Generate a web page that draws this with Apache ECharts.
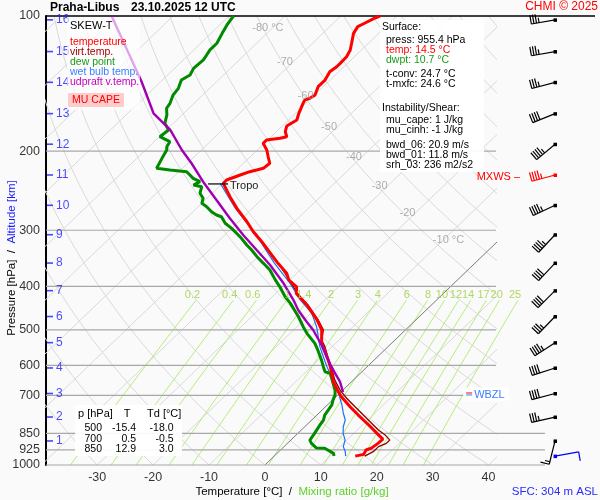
<!DOCTYPE html>
<html>
<head>
<meta charset="utf-8">
<script src="https://cdn.jsdelivr.net/npm/echarts@6.0.0/dist/echarts.min.js"></script>
<style>html,body{margin:0;padding:0;background:#fafafa;}#chart{width:600px;height:500px;}</style>
</head>
<body>
<div id="chart"></div>
<script>
// ================= DATA =================
// profiles: [pressure hPa, temperature °C]
const temperature = [[955.4,14.5],[947,15.7],[926,15.3],[917,15.9],[895,16.2],[876,16.3],[857,14.7],[828,12.3],[801,9.9],[774,7.4],[742,4.4],[705,1.0],[687,-0.5],[652,-3.3],[625,-5.1],[604,-6.6],[584,-8.2],[555,-10.7],[536,-12.5],[500,-15.0],[475,-17.7],[440,-22.3],[415,-26.3],[401,-27.5],[387,-30.2],[374,-31.8],[355.5,-35.2],[340.6,-37.9],[320.8,-41.6],[302.3,-45.5],[287.2,-48.5],[268.1,-52.8],[252.6,-56.2],[235.8,-59.9],[231.9,-59.9],[226,-58.4],[222.2,-57.3],[220.3,-56.4],[218.4,-55.5],[212.8,-55.3],[205.8,-56.8],[198.8,-58.3],[192.1,-60.2],[188.9,-60.2],[187.2,-58.1],[185.7,-57.2],[181,-58.4],[175.8,-59.2],[170.5,-58.5],[164.7,-59.4],[156.5,-60.5],[153.8,-60.8],[152.5,-60.2],[150,-59.9],[143.7,-60.9],[138.9,-60.9],[133.1,-61.6],[129.7,-61.3],[127.5,-61.3],[123.2,-61.4],[119,-62.0],[115,-63.0],[109.3,-64.5],[105.6,-65.0],[103.8,-64.4],[101.2,-63.6],[100,-63.0]];
const virtualTemp = [[955.4,16.2],[934,16.9],[910,16.9],[895,17.7],[880,17.7],[857,15.9],[836,13.8],[807,11.3],[774,8.3],[742,5.3],[710,2.2],[681,-0.5],[647,-3.3],[614,-5.7],[579,-8.5],[545,-11.3],[527,-13.1],[500,-14.7],[475,-17.5],[440,-22.1],[415,-26.1],[387,-30.1],[355.5,-35.1],[320.8,-41.5],[302.3,-45.4]];
const dewPoint = [[955.4,10.7],[942,10.1],[918,7.6],[916,6.0],[895,4.3],[880,3.4],[857,3.1],[836,2.75],[815,2.4],[794,2.1],[774,1.4],[754,1.1],[735,0.8],[717,0.1],[698,-0.5],[681,-1.4],[658,-3.0],[641,-4.2],[625,-5.4],[620,-6.6],[604,-7.85],[584,-9.4],[555,-11.9],[536,-13.7],[509,-17.0],[492,-18.9],[467.5,-21.6],[436,-25.6],[422,-27.7],[401,-30.5],[387,-32.6],[368,-35.4],[355.5,-37.8],[343.6,-40.2],[332,-42.4],[323.6,-44.2],[312.7,-46.4],[304.8,-48.2],[297.1,-50.0],[289.5,-52.1],[279.9,-54.0],[277.5,-55.2],[272.8,-56.7],[265.9,-58.5],[261.3,-60.0],[254.7,-60.7],[248.2,-62.2],[240,-63.1],[237.9,-64.9],[233.9,-64.35],[229.9,-66.2],[226,-67.4],[222.2,-68.6],[220.3,-71.9],[218.4,-74.6],[207.5,-75.5],[198.8,-76.2],[195.5,-76.8],[190.5,-77.2],[185.7,-79.9],[179.4,-79.6],[173.4,-81.5],[166.1,-82.7],[160.5,-84.0],[156.5,-84.3],[150,-85.3],[144.9,-85.6],[138.9,-86.6],[135.3,-86.0],[130.8,-86.6],[125.3,-86.4],[119,-87.1],[115,-87.1],[109.3,-88.0],[104.7,-88.7],[100,-89.2]];
const wetBulb = [[955.4,12.8],[934,11.9],[910,10.6],[880,9.7],[850,8.1],[822,6.9],[794,6.0],[767,4.4],[735,2.6],[710,1.0],[687,-0.5],[658,-2.7],[636,-4.5],[604,-7.2],[574,-9.7],[545,-12.2],[492,-16.5],[459,-19.9],[429,-24.4],[394,-29.3],[355,-35.9],[320,-42.0],[300,-45.9],[268,-53.1],[236,-60.4]];
const updraftVirtTemp = [[688,0.4],[652,-2.1],[625,-4.5],[604,-6.4],[574,-9.1],[540.5,-12.2],[500.4,-16.5],[479.6,-19.2],[451.7,-22.9],[429.1,-25.6],[393.8,-30.5],[358.6,-36.3],[332,-41.5],[307.4,-46.7],[282.2,-52.2],[256.9,-58.0],[233.9,-63.8],[212.8,-69.3],[198.8,-73.5],[179.4,-79.3],[164.7,-85.4],[140.1,-93.4],[100,-111.0]];

// axes / ticks
const pressureTicks = [100,200,300,400,500,600,700,850,925,1000];
const temperatureTicks = [-30,-20,-10,0,10,20,30,40];
const altitudeKm = [1,2,3,4,5,6,7,8,9,10,11,12,13,14,15,16];
const altitudeP  = [884,782,693,608,534,467,409,355,307,264,226,193,165,140.5,120,102];
const mixingRatios = [0.2,0.4,0.6,1,1.4,2,3,4,6,8,10,12,14,17,20,25];
const isothermLabelT = [-80,-70,-60,-50,-40,-30,-20,-10];
const isothermLabelP = [106.3,126.6,150.7,176.8,206.0,239.1,274.6,315.4];

// winds at each km level (direction °, speed kt)
const windDir = [194,257,255,252,237,224,225,223,223,245,255,230,248,255,260,260];
const windSpd = [15,35,40,40,45,35,40,40,45,45,45,45,40,35,35,35];
const maxWindKm = 11;
const surfaceWind = [955.4, 80, 10];

// special levels
const tropopause = [236, -59.9];
const wbzlPressure = 693;

// surface / index info
const sfcPress = 955.4, sfcTemp = 14.5, sfcDwpt = 10.7;
const tConv = 24.7, tMxfc = 24.6;
const muCape = 1, muCinh = -1, bwd06 = 20.9, bwd01 = 11.8, srh03 = 236;
const tableP = [500,700,850];
const tableT = [-15.4,0.5,12.9];
const tableTd = [-18.0,-0.5,3.0];
const stationName = 'Praha-Libus', stationTime = '23.10.2025 12 UTC', sfcHeight = 304;

// ================= CHART =================
const FONT = "'Liberation Sans', Arial, sans-serif";
const K = 36.3;                                  // skew (°C per ln-pressure unit)
const sk = (T, p) => T + K * Math.log(1000 / p);
const XMIN = -39.16, XMAX = 41.34, XMAX_W = 59.05, XLOW = 50.1;
const BARB_X = 51.9, WBZL_X = 36;

const series = [];
function gridLine(pts, color, width, gi, z, clip) {
  series.push({type:'line', xAxisIndex:gi, yAxisIndex:gi, data:pts, showSymbol:false, symbol:'none',
    silent:true, clip: clip !== false, lineStyle:{color, width}, z: z || 1, animation:false});
}
// isotherms
for (let T = -130; T <= 40; T += 10)
  gridLine([[sk(T,1000),1000],[sk(T,100),100]], T === 0 ? '#7a7a7a' : '#d9d9d9', 1, 0, T === 0 ? 2 : 1);
// dry adiabats
for (let th = -40; th <= 180; th += 10) {
  const pts = [];
  for (let i = 0; i <= 40; i++) {
    const p = 1000 * Math.pow(0.1, i / 40);
    const T = (th + 273.15) * Math.pow(p / 1000, 0.2857) - 273.15;
    pts.push([sk(T,p), p]);
  }
  gridLine(pts, '#d9d9d9', 1, 0);
}
// saturation mixing ratio lines
const tdFromW = (w, p) => { const e = w * p / (622 + w); const l = Math.log(e / 6.112); return 243.5 * l / (17.67 - l); };
mixingRatios.forEach(w => {
  const pts = [];
  for (let p = 1000; p >= 430; p -= 10) pts.push([sk(tdFromW(w,p),p), p]);
  gridLine(pts, '#b4ec78', 1, 1, 1);
});
// pressure lines
pressureTicks.forEach(p => {
  if (p === 100) gridLine([[XMIN,p],[XMAX_W,p]], '#000', 1.5, 1, 3, false);
  else if (p >= 850) gridLine([[XMIN,p],[XLOW,p]], '#a8a8a8', 1.2, 1, 3, false);
  else gridLine([[XMIN,p],[XMAX,p]], '#a8a8a8', 1.2, 1, 3, false);
});

// profiles
function profile(data, color, width, z) {
  series.push({type:'line', xAxisIndex:0, yAxisIndex:0, data:data.map(([p,T]) => [sk(T,p), p]),
    showSymbol:false, symbol:'none', clip:true, silent:true, lineStyle:{color, width}, z, animation:false});
}
profile(wetBulb, '#1f6fff', 1.2, 5);
profile(dewPoint, '#008a00', 3, 6);
profile(virtualTemp, '#8b0000', 1.3, 6);
profile(temperature, '#ff0000', 3, 7);
profile(updraftVirtTemp, '#a000b4', 2.4, 8);

// label helper series
function labels(gi, data, label, extra) {
  series.push(Object.assign({type:'scatter', xAxisIndex:gi, yAxisIndex:gi, data, symbolSize:0, silent:true, clip:false, z:12,
    label:Object.assign({show:true, fontFamily:FONT}, label), animation:false}, extra || {}));
}
// pressure labels
labels(0, pressureTicks.map(p => ({value:[XMIN,p], name:String(p)})),
  {position:'left', distance:6, color:'#000', fontSize:12.5, formatter:d => d.name});
// temperature labels
labels(0, temperatureTicks.map(t => ({value:[t,1000], name:String(t)})),
  {position:'bottom', distance:6, color:'#000', fontSize:12.5, formatter:d => d.name});
// isotherm labels
labels(0, isothermLabelT.map((t,i) => ({value:[sk(t,isothermLabelP[i]), isothermLabelP[i]],
  name: (t === -80 || t === -10) ? t + ' °C' : String(t),
  label:{offset: t === -80 ? [11,0] : (t === -10 ? [21,0] : [0,0])}})),
  {position:'left', distance:0, color:'#9a9a9a', fontSize:11, formatter:d => d.name});
// mixing ratio labels
labels(1, mixingRatios.map(w => ({value:[sk(tdFromW(w,418),418), 418], name:String(w)})),
  {position:'left', distance:0, color:'#9ad03c', fontSize:11, formatter:d => d.name});
// altitude ticks
series.push({type:'scatter', xAxisIndex:0, yAxisIndex:0, silent:true, clip:false, z:12, animation:false,
  data: altitudeKm.map((k,i) => ({value:[XMIN, altitudeP[i]], name:String(k)})),
  symbol:'rect', symbolSize:[6,1.6], symbolOffset:[4,0], itemStyle:{color:'#1a1aff'},
  label:{show:true, position:'right', distance:3, color:'#1a1aff', fontSize:12, fontFamily:FONT, formatter:d => d.name}});

// wind barbs
function renderBarb(params, api) {
  const pt = api.coord([api.value(0), api.value(1)]);
  const dir = api.value(2) * Math.PI / 180, spd = api.value(3), kind = api.value(4);
  const col = kind === 1 ? '#ff0000' : (kind === 2 ? '#0000ff' : '#000000');
  const ux = Math.sin(dir), uy = -Math.cos(dir);
  const L = 24, tx = pt[0] + ux * L, ty = pt[1] + uy * L;
  const bx = -uy, by = ux;
  const st = {stroke:col, lineWidth:1.2};
  const ch = [{type:'line', shape:{x1:pt[0], y1:pt[1], x2:tx, y2:ty}, style:st}];
  let s = spd, k = 0;
  while (s >= 10) {
    const sx = tx - ux * k * 2.6, sy = ty - uy * k * 2.6;
    ch.push({type:'line', shape:{x1:sx, y1:sy, x2:sx + bx * 9, y2:sy + by * 9}, style:st});
    s -= 10; k++;
  }
  if (s >= 5) {
    if (k === 0) k = 1;
    const sx = tx - ux * k * 2.6, sy = ty - uy * k * 2.6;
    ch.push({type:'line', shape:{x1:sx, y1:sy, x2:sx + bx * 5, y2:sy + by * 5}, style:st});
  }
  ch.push({type:'rect', shape:{x:pt[0]-1.5, y:pt[1]-1.5, width:3.5, height:3.5}, style:{fill:col}});
  if (kind === 1) ch.push({type:'text', x:pt[0]-35, y:pt[1]+2, style:{text:'MXWS –', fill:'#ff0000', font:'11px ' + FONT, align:'right', verticalAlign:'middle'}});
  return {type:'group', children:ch};
}
const barbData = altitudeP.map((p,i) => [BARB_X, p, windDir[i], windSpd[i], altitudeKm[i] === maxWindKm ? 1 : 0]);
barbData.push([BARB_X, surfaceWind[0], surfaceWind[1], surfaceWind[2], 2]);
series.push({type:'custom', xAxisIndex:1, yAxisIndex:1, data:barbData, renderItem:renderBarb, silent:true, clip:false, z:12, animation:false});

// tropopause marker
series.push({type:'custom', xAxisIndex:0, yAxisIndex:0, data:[[sk(tropopause[1],tropopause[0]), tropopause[0]]], silent:true, z:13, animation:false,
  renderItem:(params, api) => {
    const pt = api.coord([api.value(0), api.value(1)]);
    return {type:'group', children:[
      {type:'line', shape:{x1:pt[0]-15, y1:pt[1]+0.5, x2:pt[0]+5, y2:pt[1]+0.5}, style:{stroke:'#000', lineWidth:1.2}},
      {type:'text', x:pt[0]+7, y:pt[1]+2.5, style:{text:'Tropo', fill:'#222', font:'11px ' + FONT, align:'left', verticalAlign:'middle'}}]};
  }});
// WBZL marker
series.push({type:'custom', xAxisIndex:1, yAxisIndex:1, data:[[WBZL_X, wbzlPressure]], silent:true, z:13, animation:false,
  renderItem:(params, api) => {
    const pt = api.coord([api.value(0), api.value(1)]);
    return {type:'group', children:[
      {type:'rect', shape:{x:pt[0]-3, y:pt[1]-6, width:46, height:13}, style:{fill:'#ffffff'}},
      {type:'line', shape:{x1:pt[0], y1:pt[1]-0.5, x2:pt[0]+6, y2:pt[1]-0.5}, style:{stroke:'#ff0000', lineWidth:1}},
      {type:'line', shape:{x1:pt[0], y1:pt[1]+1.5, x2:pt[0]+6, y2:pt[1]+1.5}, style:{stroke:'#3a7fff', lineWidth:1}},
      {type:'text', x:pt[0]+8, y:pt[1]+1.5, style:{text:'WBZL', fill:'#3a7fff', font:'11px ' + FONT, align:'left', verticalAlign:'middle'}}]};
  }});

// ---- graphic annotations ----
const G = [];
function gtext(x, y, text, fill, size, extra) {
  G.push({type:'text', x, y, z:101, silent:true,
    style:Object.assign({text, fill: fill || '#000', font:(size || 11) + 'px ' + FONT, align:'left', verticalAlign:'middle'}, extra || {})});
}
function grect(x, y, w, h, fill) { G.push({type:'rect', z:100, silent:true, shape:{x, y, width:w, height:h}, style:{fill}}); }

gtext(50, 8, stationName, '#000', 12, {font:'bold 12px ' + FONT});
gtext(131, 8, stationTime, '#000', 12, {font:'bold 12px ' + FONT});
gtext(598, 7, 'CHMI © 2025', '#ff0000', 12, {align:'right'});
// legend box
grect(67, 17, 73, 93, 'rgba(255,255,255,0.65)');
gtext(70, 26, 'SKEW-T', '#000', 11);
gtext(70, 42, 'temperature', '#ff0000', 10.5);
gtext(70, 52, 'virt.temp.', '#a00000', 10.5);
gtext(70, 62, 'dew point', '#1a9a1a', 10.5);
gtext(70, 72, 'wet bulb temp.', '#3a80ff', 10.5);
gtext(70, 82, 'udpraft v.temp.', '#c000c0', 10.5);
grect(68, 93, 56, 14, '#ffcccc');
gtext(96, 100.5, 'MU CAPE', '#ff0000', 10.5, {align:'center'});
// info box
grect(380, 20, 104, 152, 'rgba(255,255,255,0.92)');
gtext(382, 27.5, 'Surface:', '#000', 10.5);
gtext(386, 40, 'press: ' + sfcPress + ' hPa', '#000', 10.5);
gtext(386, 50, 'temp: ' + sfcTemp + ' °C', '#ff0000', 10.5);
gtext(386, 60, 'dwpt: ' + sfcDwpt + ' °C', '#1a9a1a', 10.5);
gtext(386, 74.5, 't-conv: ' + tConv + ' °C', '#000', 10.5);
gtext(386, 84.5, 't-mxfc: ' + tMxfc + ' °C', '#000', 10.5);
gtext(382, 108.5, 'Instability/Shear:', '#000', 10.5);
gtext(386, 120, 'mu_cape: ' + muCape + ' J/kg', '#000', 10.5);
gtext(386, 130, 'mu_cinh: ' + muCinh + ' J/kg', '#000', 10.5);
gtext(386, 145, 'bwd_06: ' + bwd06 + ' m/s', '#000', 10.5);
gtext(386, 155, 'bwd_01: ' + bwd01 + ' m/s', '#000', 10.5);
gtext(386, 165, 'srh_03: ' + srh03 + ' m2/s2', '#000', 10.5);
// table box
grect(75, 405, 107, 51, 'rgba(255,255,255,0.93)');
gtext(78, 413.5, 'p [hPa]', '#000', 11);
gtext(127, 413.5, 'T', '#000', 11, {align:'center'});
gtext(147, 413.5, 'Td [°C]', '#000', 11);
tableP.forEach((p,i) => {
  const y = 428.3 + i * 10.4;
  gtext(102, y, String(p), '#000', 10.5, {align:'right'});
  gtext(136, y, tableT[i].toFixed(1), '#000', 10.5, {align:'right'});
  gtext(173.5, y, tableTd[i].toFixed(1), '#000', 10.5, {align:'right'});
});
// axis names
gtext(292, 492, '{a|Temperature [°C]}  /  {b|Mixing ratio [g/kg]}', '#000', 11.5,
  {align:'center', rich:{a:{fill:'#000', font:'11.5px ' + FONT}, b:{fill:'#5fd02a', font:'11.5px ' + FONT}}});
G.push({type:'text', x:12, y:258, rotation:Math.PI/2, z:101, silent:true,
  style:{text:'{a|Pressure [hPa]}  /  {b|Altitude [km]}', font:'11.5px ' + FONT, fill:'#000', align:'center', verticalAlign:'middle',
    rich:{a:{fill:'#000', font:'11.5px ' + FONT}, b:{fill:'#1a1aff', font:'11.5px ' + FONT}}}});
gtext(598, 492, 'SFC: ' + sfcHeight + ' m ASL', '#2a2aff', 11.5, {align:'right'});

const chart = echarts.init(document.getElementById('chart'), null, {renderer:'canvas'});
chart.setOption({
  backgroundColor:'#fafafa',
  animation:false,
  grid:[{left:46, top:16, width:450, height:449}, {left:46, top:16, width:549, height:449}],
  xAxis:[{type:'value', gridIndex:0, min:XMIN, max:XMAX, show:false},
         {type:'value', gridIndex:1, min:XMIN, max:XMAX_W, show:false}],
  yAxis:[{type:'log', logBase:10, gridIndex:0, min:100, max:1000, inverse:true,
          axisLine:{show:true, onZero:false, lineStyle:{color:'#000', width:2}}, axisTick:{show:false}, axisLabel:{show:false}, splitLine:{show:false}},
         {type:'log', logBase:10, gridIndex:1, min:100, max:1000, inverse:true, show:false}],
  series,
  graphic:{elements:G}
});
</script>
</body>
</html>
